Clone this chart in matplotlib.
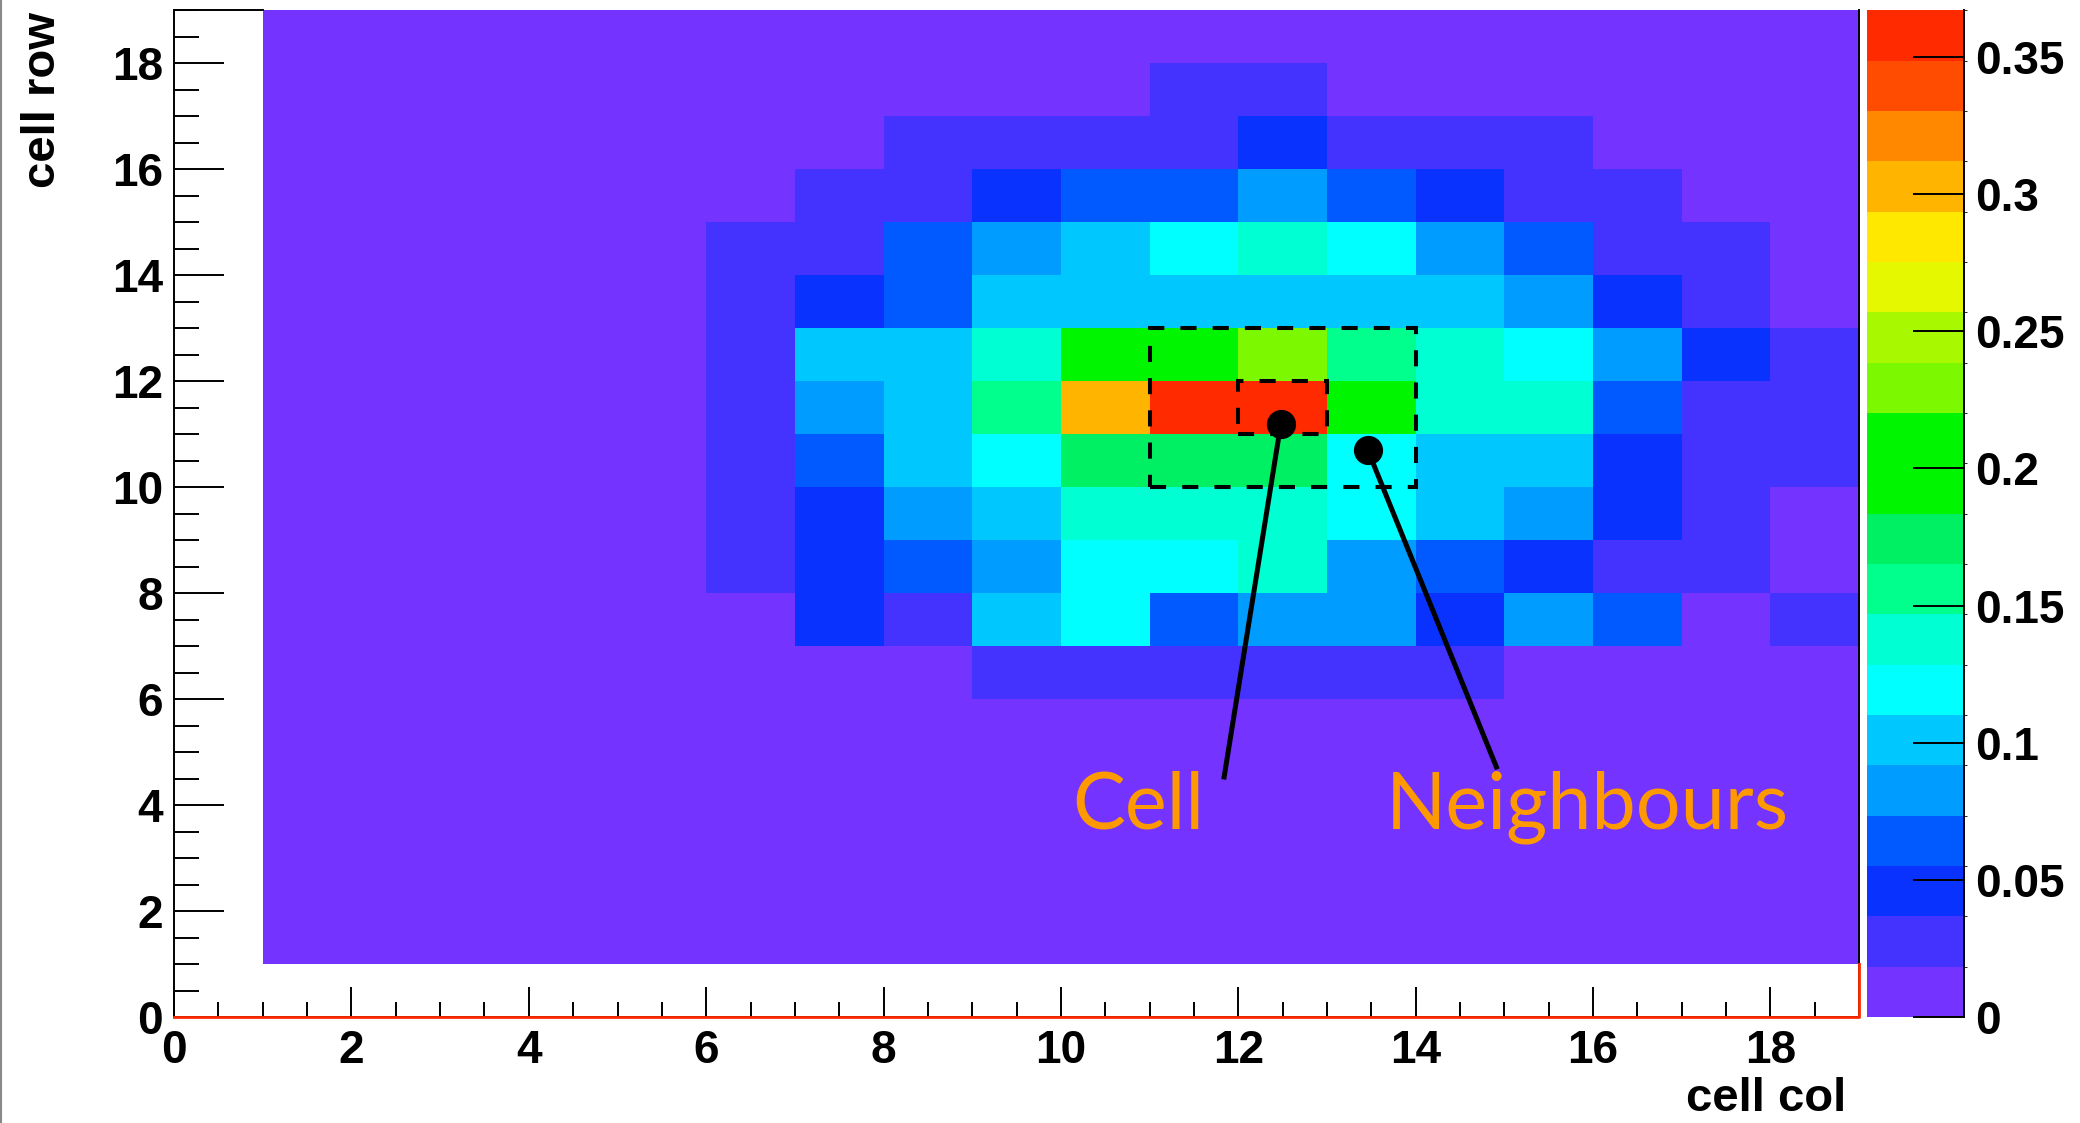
import numpy as np
import matplotlib
matplotlib.use('Agg')
import matplotlib.pyplot as plt
from matplotlib.colors import ListedColormap, BoundaryNorm
from matplotlib.patches import Rectangle

#%% data: cell content per (row, col), rows listed top (18) to bottom (1), cols 1..18
bg = 0.005
cell_values = [
    [bg]*18,                                                                                          # row 18
    [bg]*10 + [.027, .027] + [bg]*6,                                                                 # row 17
    [bg]*7 + [.027, .027, .027, .027, .046, .027, .027, .027] + [bg]*3,                              # row 16
    [bg]*6 + [.027, .027, .046, .064, .064, .082, .064, .046, .027, .027, bg, bg],                  # row 15
    [bg]*5 + [.027, .027, .064, .082, .101, .119, .137, .119, .082, .064, .027, .027, bg],          # row 14
    [bg]*5 + [.027, .046, .064, .101, .101, .101, .101, .101, .101, .082, .046, .027, bg],          # row 13
    [bg]*5 + [.027, .101, .101, .137, .200, .200, .229, .156, .137, .119, .082, .046, .027],        # row 12
    [bg]*5 + [.027, .082, .101, .156, .302, .360, .366, .200, .137, .137, .064, .027, .027],        # row 11
    [bg]*5 + [.027, .064, .101, .119, .174, .174, .174, .119, .101, .101, .046, .027, .027],        # row 10
    [bg]*5 + [.027, .046, .082, .101, .137, .137, .137, .119, .101, .082, .046, .027, bg],          # row 9
    [bg]*5 + [.027, .046, .064, .082, .119, .119, .137, .082, .064, .046, .027, .027, bg],          # row 8
    [bg]*6 + [.046, .027, .101, .119, .064, .082, .082, .046, .082, .064, bg, .027],                # row 7
    [bg]*8 + [.027, .027, .027, .027, .027, .027] + [bg]*4,                                          # row 6
    [bg]*18, [bg]*18, [bg]*18, [bg]*18, [bg]*18,                                                     # rows 5..1
]
col_edges = np.arange(1, 20)
row_edges = np.arange(1, 20)
z_max = 0.367

palette = ['#7433ff', '#4432ff', '#0a32ff', '#005aff', '#009cff', '#00c8ff', '#00ffff',
           '#00ffd2', '#00ff8c', '#00f064', '#00f500', '#00f500', '#7cf800', '#a8f800',
           '#e5f800', '#ffe800', '#ffb400', '#ff8800', '#ff4c00', '#ff2a00']

cb_ticks = [0, 0.05, 0.1, 0.15, 0.2, 0.25, 0.3, 0.35]
cb_labels = ['0', '0.05', '0.1', '0.15', '0.2', '0.25', '0.3', '0.35']

# annotation: dot position, line end, label
cell_dot = (12.48, 11.2)
cell_end = (11.84, 4.53)
neigh_dot = (13.46, 10.7)
neigh_end = (14.91, 4.72)

#%% plot
z = np.array(cell_values)[::-1]
cmap = ListedColormap(palette)
norm = BoundaryNorm(np.linspace(0, z_max, len(palette) + 1), len(palette))

fig = plt.figure(figsize=(20.8, 11.23), dpi=100)
ax = fig.add_axes([0.0837, 0.0944, 0.8101, 0.8963])
cax = fig.add_axes([0.8978, 0.0944, 0.0464, 0.8963])

mesh = ax.pcolormesh(col_edges, row_edges, z, cmap=cmap, norm=norm)

ax.set_xlim(0, 19)
ax.set_ylim(0, 19)
ax.set_xticks(np.arange(0, 19, 2))
ax.set_xticks(np.arange(0, 19.01, 0.5), minor=True)
ax.set_yticks(np.arange(0, 19, 2))
ax.set_yticks(np.arange(0, 19.01, 0.5), minor=True)

tick_font = dict(family='Liberation Sans', weight='bold', size=33)
title_font = dict(family='Liberation Sans', weight='bold', size=34)
ax.set_xticklabels([str(v) for v in range(0, 19, 2)], fontdict=tick_font)
ax.set_yticklabels([str(v) for v in range(0, 19, 2)], fontdict=tick_font)
ax.tick_params(axis='x', which='major', direction='in', length=21.6, width=1.4, pad=9)
ax.tick_params(axis='x', which='minor', direction='in', length=10.8, width=1.4)
ax.tick_params(axis='y', which='major', direction='in', length=36, width=1.4, pad=8)
ax.tick_params(axis='y', which='minor', direction='in', length=18, width=1.4)

for s in ['left', 'bottom', 'right']:
    ax.spines[s].set_linewidth(1.4)
ax.spines['top'].set_visible(False)
ax.plot([0, 1], [19, 19], color='k', lw=1.4, clip_on=False)
ax.plot([0, 19, 19], [0, 0, 1], color='#ff2a00', lw=2, clip_on=False, zorder=5)

# dashed boxes: neighbours (3x3) and the cell itself
ax.add_patch(Rectangle((11, 10), 3, 3, fill=False, ec='k', lw=2.9, ls=(0, (4, 4)), zorder=4))
ax.add_patch(Rectangle((12, 11), 1, 1, fill=False, ec='k', lw=2.9, ls=(0, (4, 4)), zorder=4))

ax.plot([cell_dot[0], cell_end[0]], [cell_dot[1], cell_end[1]], color='k', lw=3.6, zorder=6)
ax.plot([neigh_dot[0], neigh_end[0]], [neigh_dot[1], neigh_end[1]], color='k', lw=3.6, zorder=6)
ax.plot(*cell_dot, 'o', ms=20, color='k', zorder=7)
ax.plot(*neigh_dot, 'o', ms=20, color='k', zorder=7)

ax.text(10.13, 3.55, 'Cell', fontsize=57, color='#ff9900', family='Lato', ha='left', va='baseline')
ax.text(13.66, 3.55, 'Neighbours', fontsize=57, color='#ff9900', family='Lato', ha='left', va='baseline')

fig.text(0.8875, 0.002, 'cell col', ha='right', va='bottom', **title_font)
fig.text(0.0205, 0.989, 'cell row', ha='center', va='top', rotation=90, **title_font)

# colour scale
cb = fig.colorbar(mesh, cax=cax, ticks=cb_ticks)
cb.ax.set_yticklabels(cb_labels, fontdict=tick_font)
cb.ax.tick_params(direction='in', length=36.7, width=1.4, pad=8)
cb.outline.set_visible(False)
cax.plot([1, 1], [0, 1], transform=cax.transAxes, color='k', lw=1.4, clip_on=False)

fig.add_artist(plt.Line2D([0.0007, 0.0007], [0, 1], color='#888888', lw=1.5))

fig.savefig('out.png', dpi=100)
